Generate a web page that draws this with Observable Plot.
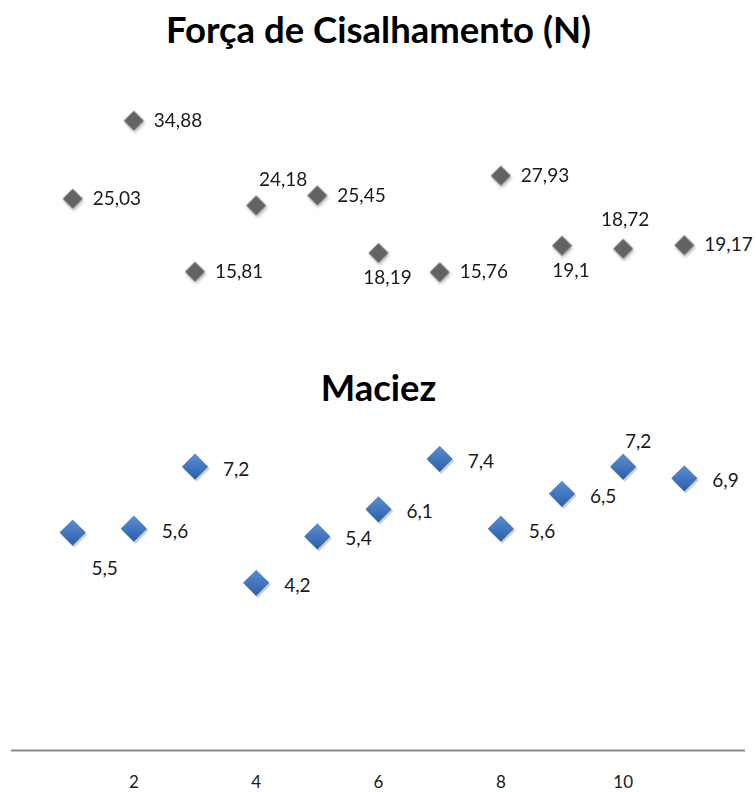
<!DOCTYPE html>
<html><head><meta charset="utf-8">
<script src="https://cdn.jsdelivr.net/npm/d3@7"></script>
<script src="https://cdn.jsdelivr.net/npm/@observablehq/plot@0.6"></script>
<style>body{margin:0;background:#fff}</style>
</head><body><div id="chart"></div>
<script>
// ---- data ----
const amostras = [1, 2, 3, 4, 5, 6, 7, 8, 9, 10, 11];
const forca = [25.03, 34.88, 15.81, 24.18, 25.45, 18.19, 15.76, 27.93, 19.1, 18.72, 19.17];
const maciez = [5.5, 5.6, 7.2, 4.2, 5.4, 6.1, 7.4, 5.6, 6.5, 7.2, 6.9];
const forcaLabelPos = ["right", "right", "right", "aboveRight", "right", "below", "right", "right", "below", "above", "right"];
const maciezLabelPos = ["belowRight", "right", "right", "right", "right", "right", "right", "right", "right", "above", "right"];
const xTicks = [2, 4, 6, 8, 10];
const xDomain = [0, 12];
const primaryDomain = [0, 18];      // Maciez axis (hidden)
const secondaryDomain = [-44, 44];  // Força axis (hidden, secondary)
const titulo = "Força de Cisalhamento (N)";
const titulo2 = "Maciez";

// secondary axis -> primary axis units
const sec = d3.scaleLinear().domain(secondaryDomain).range(primaryDomain);
const fmt = v => String(v).replace(".", ",");

const grayRows = amostras.map((x, i) => ({x, y: sec(forca[i]), label: fmt(forca[i]), pos: forcaLabelPos[i]}));
const blueRows = amostras.map((x, i) => ({x, y: maciez[i], label: fmt(maciez[i]), pos: maciezLabelPos[i]}));

const grayOff = {
  right: {dx: 20, dy: 0, textAnchor: "start"},
  aboveRight: {dx: 27, dy: -26, textAnchor: "middle"},
  below: {dx: 9, dy: 25, textAnchor: "middle"},
  above: {dx: 2, dy: -29, textAnchor: "middle"}
};
const blueOff = {
  right: {dx: 28, dy: 3, textAnchor: "start"},
  belowRight: {dx: 32, dy: 36, textAnchor: "middle"},
  above: {dx: 15, dy: -25, textAnchor: "middle"}
};

function labelMarks(rows, offs) {
  return Object.keys(offs).map(p => Plot.text(rows.filter(d => d.pos === p), {
    x: "x", y: "y", text: "label", ...offs[p], fontSize: 19, fill: "#1a1a1a"
  }));
}

const chart = Plot.plot({
  width: 756,
  height: 792,
  marginLeft: 11,
  marginRight: 11,
  marginTop: 48,
  marginBottom: 47,
  style: {fontFamily: "Lato, sans-serif", background: "#fff"},
  x: {domain: xDomain},
  y: {domain: primaryDomain, axis: null},
  marks: [
    Plot.ruleY([0], {stroke: "#8c8c8c", strokeWidth: 2, dy: 5}),
    Plot.axisX({ticks: xTicks, tickSize: 0, tickPadding: 30, fontSize: 17, label: null, fill: "#1a1a1a"}),
    // gray series (secondary axis)
    Plot.dot(grayRows, {x: "x", y: "y", symbol: "diamond2", r: 9, fill: "#636363", stroke: "none"}),
    ...labelMarks(grayRows, grayOff),
    // blue series: shadow + gradient diamond
    Plot.dot(blueRows, {x: "x", y: "y", symbol: "diamond2", r: 11.8, fill: "#cfcfcf", dx: 1.5, dy: 2}),
    Plot.dot(blueRows, {x: "x", y: "y", symbol: "diamond2", r: 11.8, fill: "#3a70b8", stroke: "none"}),
    ...labelMarks(blueRows, blueOff),
    // titles
    Plot.text([titulo], {text: d => d, frameAnchor: "top", lineAnchor: "bottom", dy: -6, fontSize: 36.5, fontWeight: "bold", fill: "#000"}),
    Plot.text([titulo2], {text: d => d, frameAnchor: "top", lineAnchor: "bottom", dy: 352, fontSize: 36.5, fontWeight: "bold", fill: "#000"})
  ]
});

// gradient + shadow decorations
const svg = d3.select(chart);
const defs = svg.insert("defs", ":first-child");
const g = defs.append("linearGradient").attr("id", "blueGrad").attr("x1", 0).attr("y1", 0).attr("x2", 0).attr("y2", 1);
g.append("stop").attr("offset", "0%").attr("stop-color", "#5a8fd6");
g.append("stop").attr("offset", "100%").attr("stop-color", "#2b5fa6");
const f = defs.append("filter").attr("id", "gshadow").attr("x", "-50%").attr("y", "-50%").attr("width", "200%").attr("height", "200%");
f.append("feDropShadow").attr("dx", 1).attr("dy", 2).attr("stdDeviation", 1.5).attr("flood-color", "#000").attr("flood-opacity", 0.3);
svg.selectAll("[fill]").each(function() {
  const v = (this.getAttribute("fill") || "").toLowerCase();
  if (v === "#3a70b8") this.setAttribute("fill", "url(#blueGrad)");
  if (v === "#636363") this.setAttribute("filter", "url(#gshadow)");
});

document.getElementById("chart").appendChild(chart);
</script>
</body></html>
